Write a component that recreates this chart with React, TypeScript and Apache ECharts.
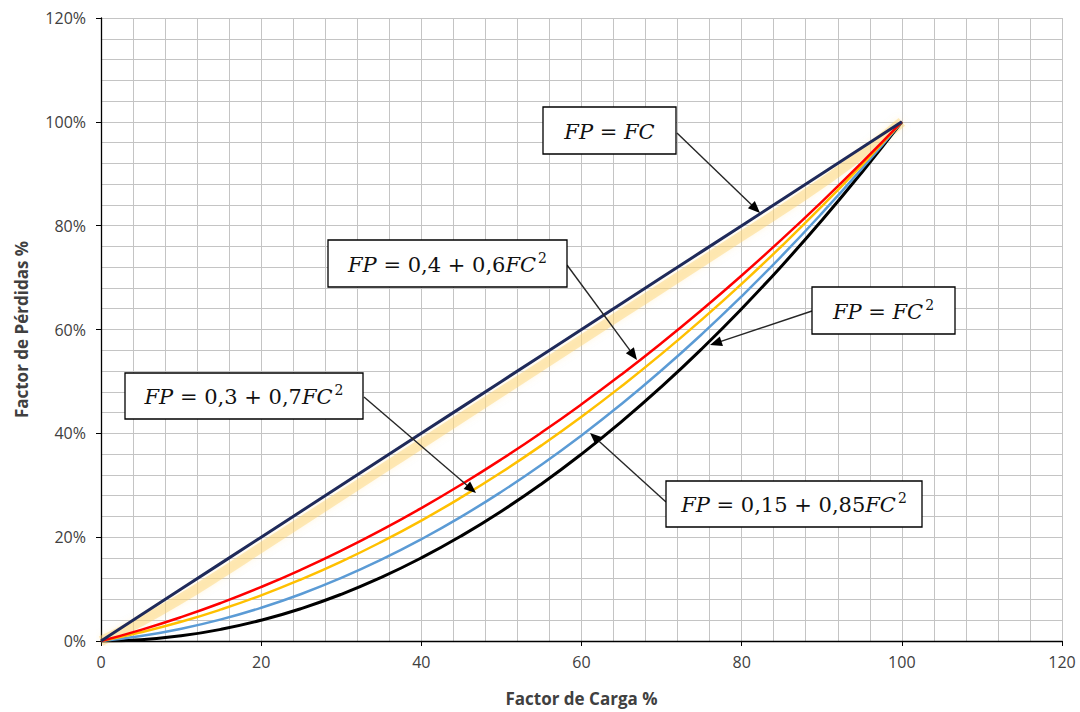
import React, { useEffect, useRef } from "react";
import * as echarts from "echarts";

const factorCarga = [0, 5, 10, 15, 20, 25, 30, 35, 40, 45, 50, 55, 60, 65, 70, 75, 80, 85, 90, 95, 100];
const fpLineal = [0, 5, 10, 15, 20, 25, 30, 35, 40, 45, 50, 55, 60, 65, 70, 75, 80, 85, 90, 95, 100];
const fpSombra = [0, 3.8, 8.2, 13.0, 18.0, 23.0, 28.0, 33.0, 38.0, 43.0, 48.0, 53.0, 58.0, 63.0, 68.0, 73.0, 78.0, 83.0, 88.2, 93.8, 100];
const fp04 = [0, 2.15, 4.6, 7.35, 10.4, 13.75, 17.4, 21.35, 25.6, 30.15, 35, 40.15, 45.6, 51.35, 57.4, 63.75, 70.4, 77.35, 84.6, 92.15, 100];
const fp03 = [0, 1.68, 3.7, 6.08, 8.8, 11.88, 15.3, 19.08, 23.2, 27.68, 32.5, 37.68, 43.2, 49.08, 55.3, 61.88, 68.8, 76.08, 83.7, 91.68, 100];
const fp015 = [0, 0.96, 2.35, 4.16, 6.4, 9.06, 12.15, 15.66, 19.6, 23.96, 28.75, 33.96, 39.6, 45.66, 52.15, 59.06, 66.4, 74.16, 82.35, 90.96, 100];
const fpCuad = [0, 0.25, 1, 2.25, 4, 6.25, 9, 12.25, 16, 20.25, 25, 30.25, 36, 42.25, 49, 56.25, 64, 72.25, 81, 90.25, 100];

const xTitle = "Factor de Carga %";
const yTitle = "Factor de Pérdidas %";

type Note = {
  parts: string; // rich text
  box: [number, number, number, number];
  from: [number, number];
  to: [number, number];
};

const notes: Note[] = [
  { parts: "{i|FP}{n| = }{i|FC}", box: [543, 107, 133, 47], from: [677, 133], to: [760, 213] },
  { parts: "{i|FP}{n| = 0,4 + 0,6}{i|FC}{s|2}", box: [328, 240, 239, 47], from: [567, 265], to: [637, 360] },
  { parts: "{i|FP}{n| = }{i|FC}{s|2}", box: [812, 287, 143, 47], from: [812, 311], to: [710, 345] },
  { parts: "{i|FP}{n| = 0,3 + 0,7}{i|FC}{s|2}", box: [125, 373, 238, 46], from: [364, 397], to: [476, 493] },
  { parts: "{i|FP}{n| = 0,15 + 0,85}{i|FC}{s|2}", box: [666, 481, 256, 46], from: [666, 502], to: [590, 433] },
];

function arrowGraphics(from: [number, number], to: [number, number]) {
  const dx = to[0] - from[0];
  const dy = to[1] - from[1];
  const len = Math.sqrt(dx * dx + dy * dy);
  const ux = dx / len;
  const uy = dy / len;
  const L = 12;
  const W = 5;
  const bx = to[0] - ux * L;
  const by = to[1] - uy * L;
  const nx = -uy;
  const ny = ux;
  return [
    {
      type: "line",
      shape: { x1: from[0], y1: from[1], x2: bx + ux * 2, y2: by + uy * 2 },
      style: { stroke: "#262626", lineWidth: 1.4 },
      z: 100,
    },
    {
      type: "polygon",
      shape: {
        points: [
          [to[0], to[1]],
          [bx + nx * W, by + ny * W],
          [bx - nx * W, by - ny * W],
        ],
      },
      style: { fill: "#000000" },
      z: 101,
    },
  ];
}

const richStyles = {
  i: { fontFamily: "DejaVu Serif", fontStyle: "italic", fontSize: 21, lineHeight: 28, fill: "#111", verticalAlign: "middle" },
  n: { fontFamily: "DejaVu Serif", fontSize: 21, lineHeight: 28, fill: "#111", verticalAlign: "middle" },
  s: { fontFamily: "DejaVu Serif", fontSize: 14, lineHeight: 20, fill: "#111", verticalAlign: "top", padding: [0, 0, 0, 2] },
};

export default function App() {
  const ref = useRef<HTMLDivElement>(null);
  useEffect(() => {
    if (!ref.current) return;
    const chart = echarts.init(ref.current, null, { renderer: "svg" });
    const mk = (ys: number[]) => factorCarga.map((x, i) => [x, ys[i]]);
    const graphics: any[] = [];
    notes.forEach((n) => {
      graphics.push({
        type: "rect",
        shape: { x: n.box[0], y: n.box[1], width: n.box[2], height: n.box[3] },
        style: { fill: "#ffffff", stroke: "#000000", lineWidth: 1.3 },
        z: 102,
      });
      graphics.push({
        type: "text",
        x: n.box[0] + n.box[2] / 2,
        y: n.box[1] + n.box[3] / 2 + 1,
        style: { text: n.parts, rich: richStyles, align: "center", verticalAlign: "middle" },
        z: 103,
      });
      arrowGraphics(n.from, n.to).forEach((g) => graphics.push(g));
    });
    const axisLabel = { color: "#404040", fontSize: 16, fontFamily: "Open Sans" };
    const split = { show: true, lineStyle: { color: "#c4c4c4", width: 1 } };
    const titleStyle = { color: "#404040", fontSize: 17, fontWeight: "bold", fontFamily: "Open Sans" };
    chart.setOption({
      animation: false,
      backgroundColor: "#ffffff",
      grid: { left: 101, right: 18, top: 18, bottom: 67 },
      xAxis: {
        type: "value",
        min: 0,
        max: 120,
        interval: 20,
        name: xTitle,
        nameLocation: "middle",
        nameGap: 49,
        nameTextStyle: titleStyle,
        axisLine: { show: true, lineStyle: { color: "#000000", width: 1.3 } },
        axisTick: { show: true, length: 5, lineStyle: { color: "#000000" } },
        axisLabel: { ...axisLabel, margin: 13 },
        splitLine: split,
        minorTick: { show: false, splitNumber: 5 },
        minorSplitLine: split,
      },
      yAxis: {
        type: "value",
        min: 0,
        max: 120,
        interval: 20,
        name: yTitle,
        nameLocation: "middle",
        nameGap: 71,
        nameTextStyle: titleStyle,
        axisLine: { show: true, lineStyle: { color: "#000000", width: 1.3 } },
        axisTick: { show: true, length: 5, lineStyle: { color: "#000000" } },
        axisLabel: { ...axisLabel, margin: 15, formatter: "{value}%" },
        splitLine: split,
        minorTick: { show: false, splitNumber: 5 },
        minorSplitLine: split,
      },
      series: [
        {
          type: "line",
          data: mk(fpSombra),
          smooth: true,
          symbol: "none",
          lineStyle: { color: "rgba(253, 210, 110, 0.45)", width: 10, shadowBlur: 6, shadowColor: "rgba(253, 215, 120, 0.5)" },
          z: 2,
        },
        { type: "line", data: mk(fpCuad), smooth: true, symbol: "none", lineStyle: { color: "#000000", width: 3 }, z: 3 },
        { type: "line", data: mk(fp015), smooth: true, symbol: "none", lineStyle: { color: "#5b9bd5", width: 2.5 }, z: 3 },
        { type: "line", data: mk(fp03), smooth: true, symbol: "none", lineStyle: { color: "#ffc000", width: 2.5 }, z: 3 },
        { type: "line", data: mk(fp04), smooth: true, symbol: "none", lineStyle: { color: "#ff0000", width: 2.5 }, z: 3 },
        { type: "line", data: mk(fpLineal), smooth: false, symbol: "none", lineStyle: { color: "#1f2a5a", width: 3 }, z: 4 },
      ],
      graphic: graphics,
    });
    return () => chart.dispose();
  }, []);
  return (
    <div
      ref={ref}
      style={{ position: "fixed", left: 0, top: 0, width: 1080, height: 712, background: "#fff" }}
    />
  );
}
